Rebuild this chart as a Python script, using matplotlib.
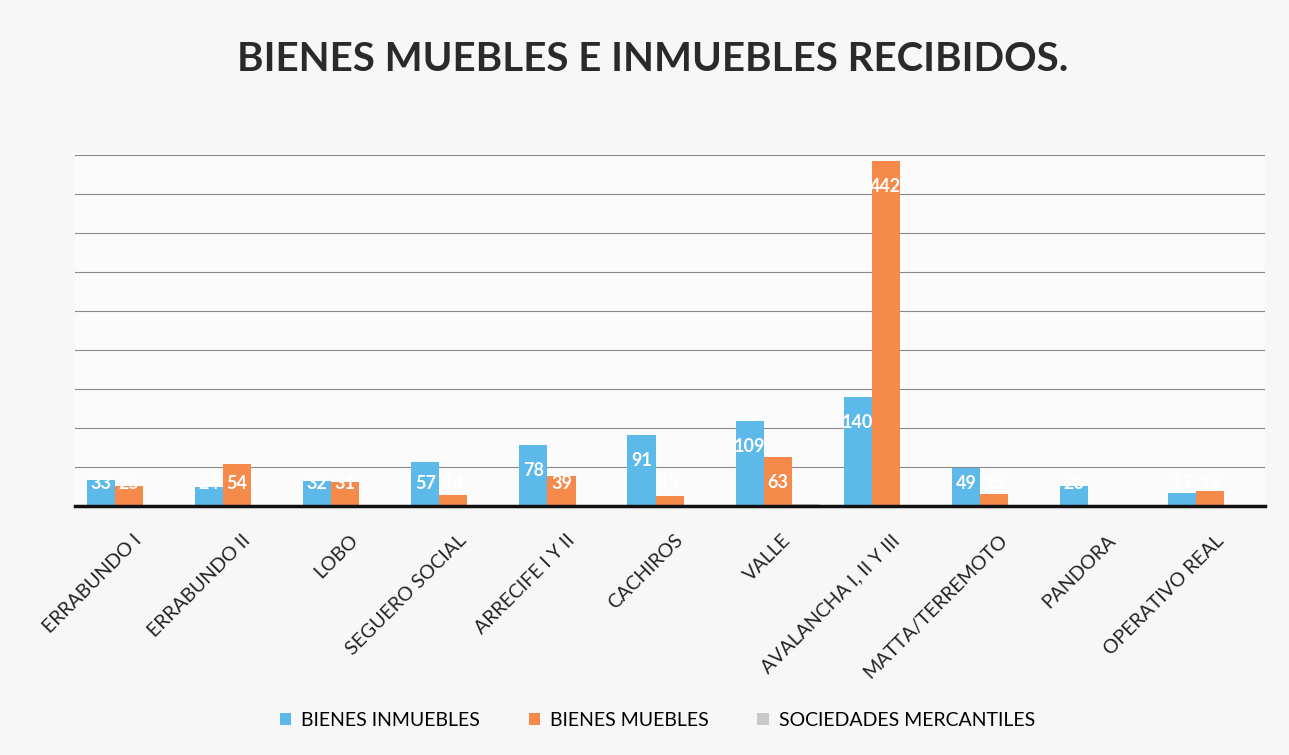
import numpy as np
import matplotlib.pyplot as plt

categories = ["ERRABUNDO I", "ERRABUNDO II", "LOBO", "SEGUERO SOCIAL", "ARRECIFE I Y II",
              "CACHIROS", "VALLE", "AVALANCHA I, II Y III", "MATTA/TERREMOTO", "PANDORA",
              "OPERATIVO REAL"]
inmuebles = [33, 24, 32, 57, 78, 91, 109, 140, 49, 26, 17]
muebles = [25, 54, 31, 14, 39, 13, 63, 442, 15, 0, 19]
sociedades = [0, 0, 0, 0, 0, 0, 3, 0, 0, 0, 0]
series_names = ["BIENES INMUEBLES", "BIENES MUEBLES", "SOCIEDADES MERCANTILES"]
colors = ["#5cb9ea", "#f58a4b", "#c9c9c9"]

plt.rcParams['font.family'] = ['Lato', 'DejaVu Sans']

fig = plt.figure(figsize=(12.89, 7.55), dpi=100, facecolor="#f7f7f7")
ax = fig.add_axes([0.058, 0.3298, 0.923, 0.465])
ax.set_facecolor("#fbfbfb")

x = np.arange(len(categories))
w = 0.26
for i, (vals, name, col) in enumerate(zip([inmuebles, muebles, sociedades], series_names, colors)):
    bars = ax.bar(x + (i - 1) * w, vals, width=w, color=col, label=name, zorder=3)
    if i == 2:
        continue
    for b, v in zip(bars, vals):
        if v <= 0:
            continue
        # inside end, but kept clear of the baseline for short bars
        ax.text(b.get_x() + b.get_width() / 2, max(v - 33, 29), str(v), ha="center",
                va="center", color="white", fontsize=13, fontweight="bold", zorder=4)

ax.set_ylim(0, 450)
ax.set_xlim(-0.5, len(categories) - 0.5)
ax.set_yticks(np.arange(50, 451, 50))
ax.yaxis.grid(True, color="#8a8a8a", lw=0.8, zorder=0)
ax.tick_params(axis="y", left=False, labelleft=False)
ax.tick_params(axis="x", bottom=False, pad=15)
for s in ["top", "right", "left"]:
    ax.spines[s].set_visible(False)
ax.spines["bottom"].set_linewidth(2.5)
ax.spines["bottom"].set_color("#111111")
ax.spines["bottom"].set_zorder(5)

ax.set_xticks(x + 0.04)
ax.set_xticklabels(categories, rotation=45, ha="right", rotation_mode="anchor",
                   fontsize=14, color="#222222")

fig.text(0.506, 0.921, "BIENES MUEBLES E INMUEBLES RECIBIDOS.", ha="center", va="center",
         fontsize=29, fontweight="bold", color="#2a2a2a")

fig.legend(loc="center", bbox_to_anchor=(0.51, 0.046), ncol=3, frameon=False,
           fontsize=14, handlelength=0.6, handleheight=0.6, columnspacing=2.5,
           handletextpad=0.5)

fig.savefig("out.png", dpi=100, facecolor=fig.get_facecolor())
